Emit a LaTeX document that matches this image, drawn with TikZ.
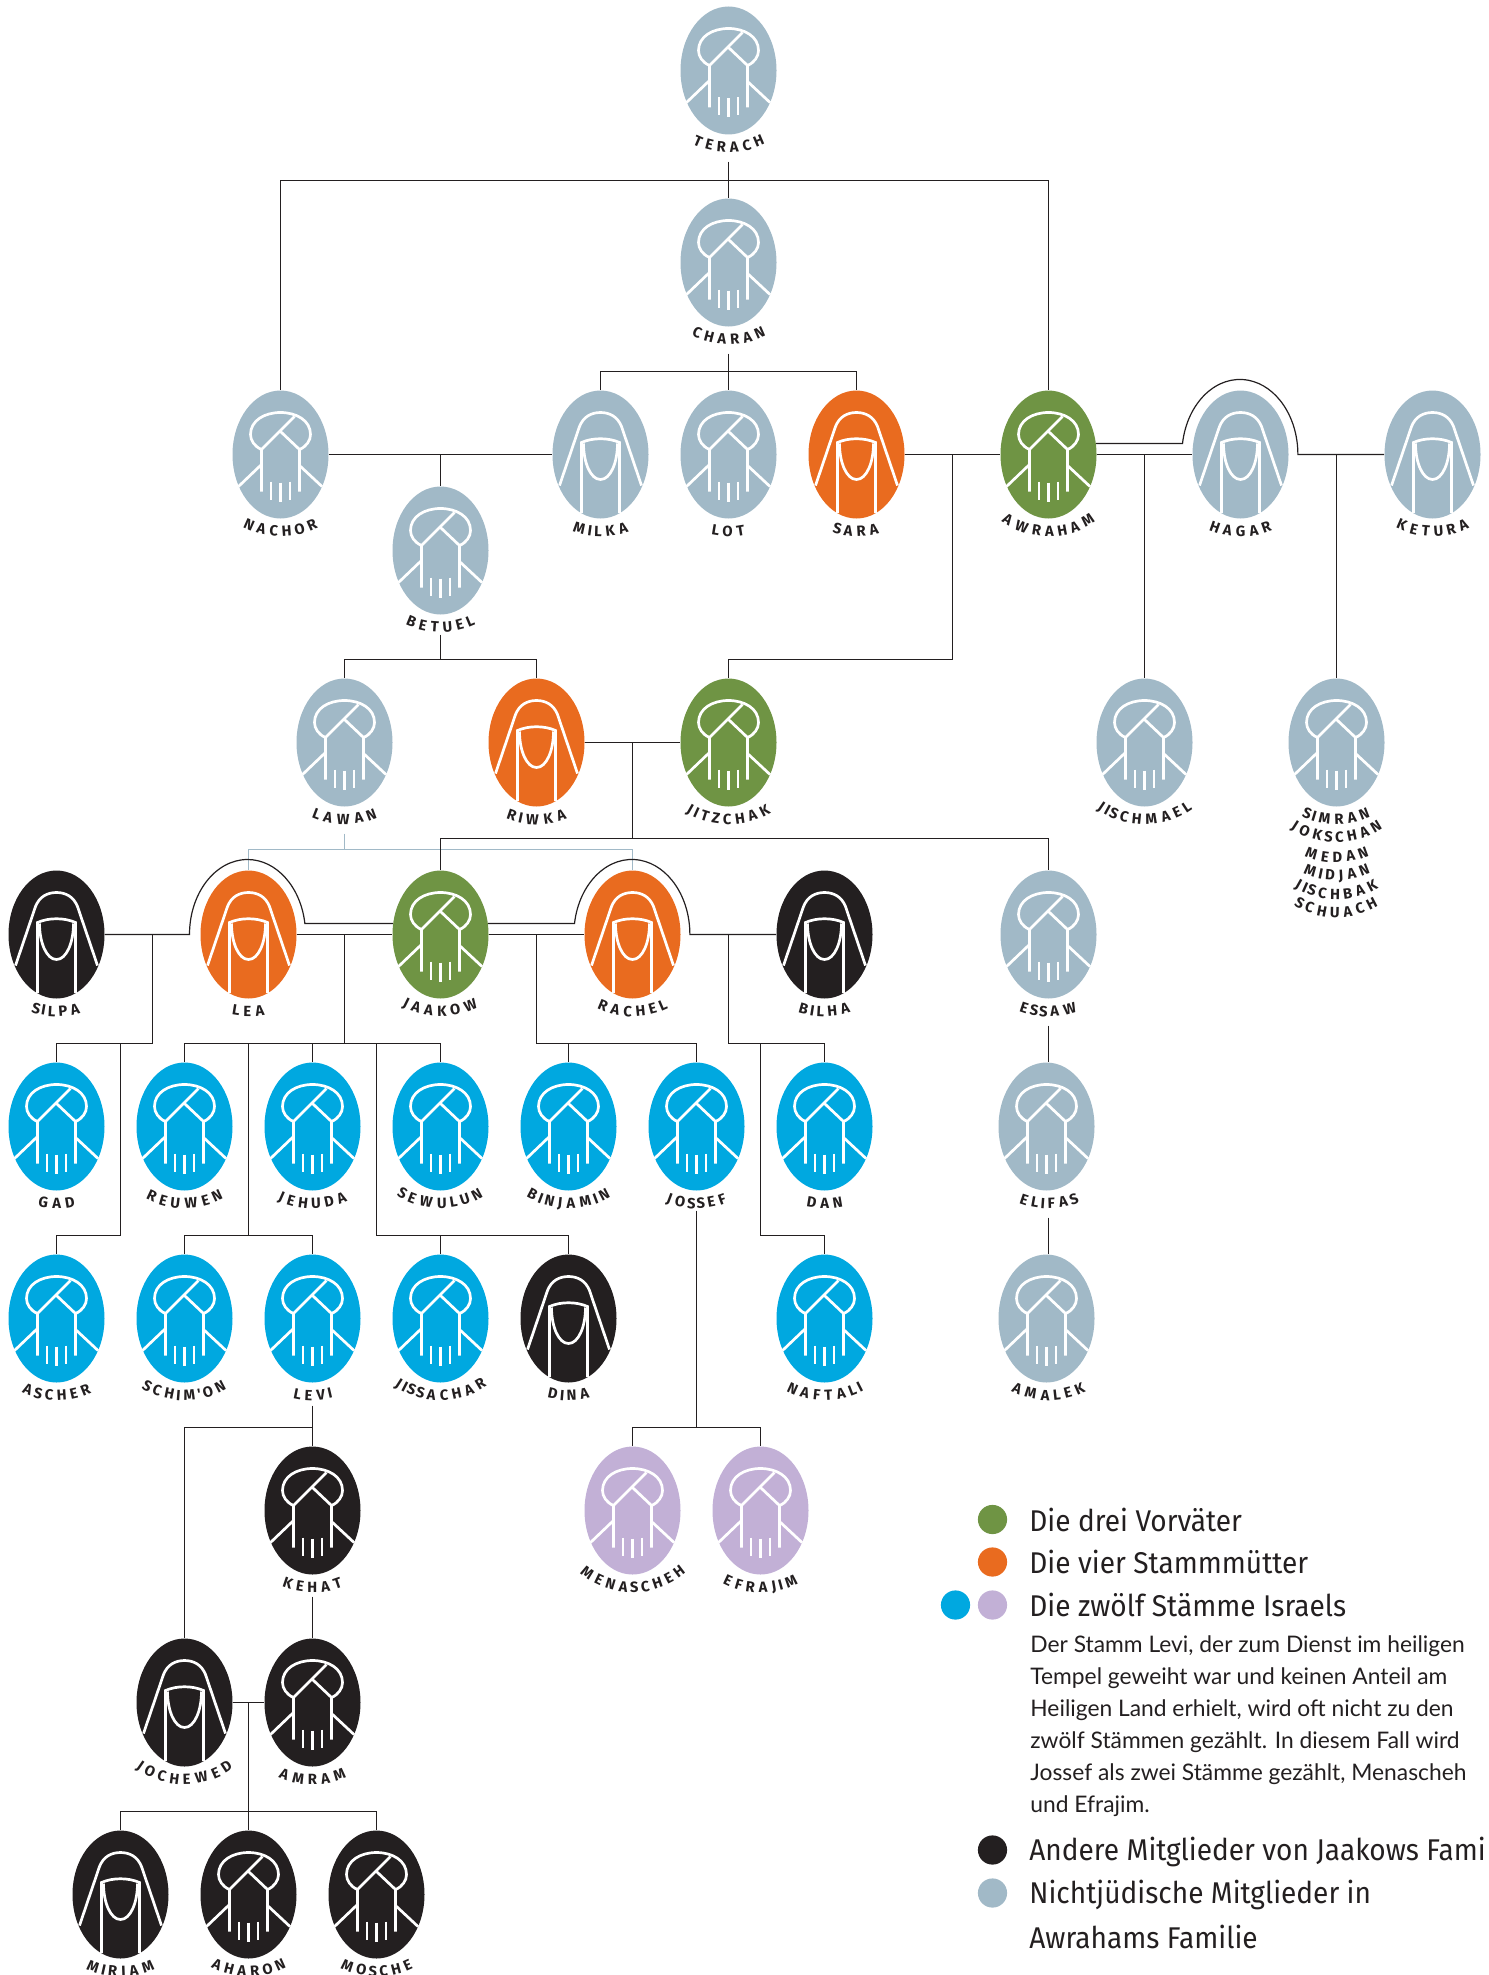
\documentclass[tikz,border=0pt]{standalone}
\usepackage{fontspec}
\usepackage{tikz}
\usetikzlibrary{shapes.geometric,decorations.text}
\newfontfamily\labelfont{Fira Sans}
\newfontfamily\legendfont[FakeStretch=.935]{Fira Sans}
\newfontfamily\bodyfont{Lato}
\definecolor{vorgreen}{HTML}{6F9444}
\definecolor{mutterorange}{HTML}{E96B1F}
\definecolor{stammblue}{HTML}{00A8E0}
\definecolor{stammlilac}{HTML}{C2B0D6}
\definecolor{famblack}{HTML}{231F20}
\definecolor{nichtgrey}{HTML}{A1B9C7}
\tikzset{
	person/.style={ellipse,minimum width=48pt,minimum height=64pt,inner sep=0pt},
	glyph/.style={white,line width=1.35pt},
	famline/.style={famblack,line width=.6pt},
	lawanline/.style={nichtgrey,line width=.6pt},
	dot/.style={circle,minimum size=14.6pt,inner sep=0pt},
	legendhead/.style={anchor=west,inner sep=0pt,text=famblack,font=\legendfont\fontsize{15}{18}\selectfont},
	legendbody/.style={anchor=north west,inner sep=0pt,align=left,text=famblack,font=\bodyfont\fontsize{11.4}{16}\selectfont},
	manface/.pic={
		\draw[glyph] (-19,-5) .. controls (-26,-8) and (-30,-14) .. (-30,-20) .. controls (-30,-34) and (-16,-42) .. (0,-42)
			.. controls (16,-42) and (30,-34) .. (30,-20) .. controls (30,-14) and (26,-8) .. (19,-5);
		\draw[glyph] (14,-38) -- (-19,-5) -- (-19,37);
		\draw[glyph] (0,-23) -- (19,-5) -- (19,37);
		\draw[glyph] (-19,10) -- (-42,32);
		\draw[glyph] (19,11) -- (41.5,32);
		\draw[glyph] (-9.5,27) -- (-9.5,45);
		\draw[glyph] (0,28) -- (0,47);
		\draw[glyph] (9.5,27) -- (9.5,45);
	},
	womanface/.pic={
		\draw[glyph] (-41,31) -- (-21,-28) .. controls (-17,-38) and (-9,-42) .. (0,-42)
			.. controls (9,-42) and (17,-38) .. (21,-28) -- (41,31);
		\draw[glyph] (-19,58.5) -- (-19,-12) .. controls (-8,-17) and (8,-17) .. (19,-12) -- (19,58.5);
		\draw[glyph] (-17,-11) .. controls (-17,8) and (-10,25) .. (0,25) .. controls (10,25) and (17,8) .. (17,-11);
	},
}
\newcommand{\namearcdo}[3]{\path[decorate,decoration={text effects along path,text={#1},text align=center,
	text effects/.cd,text along path,
		character widths={inner xsep=-.3pt},
		characters={font=\labelfont\bfseries\fontsize{7.4}{9}\selectfont,text=famblack}}]
	(#2.center) ++(0,#3) ++(225:41pt) arc[start angle=225,end angle=315,radius=41pt];}
\newcommand{\namearc}[3]{\edef\arctext{#3}\expandafter\namearcdo\expandafter{\arctext}{#1}{#2}}
\begin{document}
\begin{tikzpicture}[x=.5pt,y=-.5pt]
	\useasboundingbox (0,0) rectangle (1488,1975);
	\begin{scope}[yshift=-.25pt]
	% men
	\foreach \nm/\nx/\ny/\col/\lab in {terach/728.5/70/nichtgrey/TERACH, charan/728.5/262/nichtgrey/CHARAN,
		nachor/280.5/454/nichtgrey/NACHOR, lot/728.5/454/nichtgrey/LOT, awraham/1048.5/454/vorgreen/AWRAHAM,
		betuel/440.5/550/nichtgrey/BETUEL, lawan/344.5/742/nichtgrey/LAWAN, jitzchak/728.5/742/vorgreen/JITZCHAK,
		jischmael/1144.5/742/nichtgrey/JISCHMAEL, simran/1336.5/742/nichtgrey/SIMRAN,
		jaakow/440.5/934/vorgreen/JAAKOW, essaw/1048.5/934/nichtgrey/ESSAW,
		gad/56.5/1126/stammblue/GAD, reuwen/184.5/1126/stammblue/REUWEN, jehuda/312.5/1126/stammblue/JEHUDA,
		sewulun/440.5/1126/stammblue/SEWULUN, binjamin/568.5/1126/stammblue/BINJAMIN, jossef/696.5/1126/stammblue/JOSSEF,
		dan/824.5/1126/stammblue/DAN,
		ascher/56.5/1318/stammblue/ASCHER, schimon/184.5/1318/stammblue/SCHIM'ON, levi/312.5/1318/stammblue/LEVI,
		jissachar/440.5/1318/stammblue/JISSACHAR, naftali/824.5/1318/stammblue/NAFTALI,
		kehat/312.5/1510/famblack/KEHAT, menascheh/632.5/1510/stammlilac/MENASCHEH, efrajim/760.5/1510/stammlilac/EFRAJIM,
		amram/312.5/1702/famblack/AMRAM, aharon/248.5/1894/famblack/AHARON, mosche/376.5/1894/famblack/MOSCHE} {
		\node[person,fill=\col] (\nm) at (\nx,\ny) {};
		\pic at (\nx,\ny) {manface};
		\namearc{\nm}{0}{\lab}
	}
	% these two sit a little left of their line
	\foreach \nm/\ny/\lab in {elifas/1126/ELIFAS, amalek/1318/AMALEK} {
		\node[person,fill=nichtgrey] (\nm) at (1046.5,\ny) {};
		\pic at (1046.5,\ny) {manface};
		\coordinate (\nm line) at (1048.5,\ny);
		\namearc{\nm line}{0}{\lab}
	}
	% women
	\foreach \nm/\nx/\ny/\col/\lab in {milka/600.5/454/nichtgrey/MILKA, sara/856.5/454/mutterorange/SARA,
		hagar/1240.5/454/nichtgrey/HAGAR, ketura/1432.5/454/nichtgrey/KETURA, riwka/536.5/742/mutterorange/RIWKA,
		silpa/56.5/934/famblack/SILPA, lea/248.5/934/mutterorange/LEA, rachel/632.5/934/mutterorange/RACHEL,
		bilha/824.5/934/famblack/BILHA, dina/568.5/1318/famblack/DINA, jochewed/184.5/1702/famblack/JOCHEWED,
		mirjam/120.5/1894/famblack/MIRJAM} {
		\node[person,fill=\col] (\nm) at (\nx,\ny) {};
		\pic at (\nx,\ny) {womanface};
		\namearc{\nm}{0}{\lab}
	}
	\namearc{simran}{18}{JOKSCHAN}
	\namearc{simran}{38}{MEDAN}
	\namearc{simran}{56}{MIDJAN}
	\namearc{simran}{75}{JISCHBAK}
	\namearc{simran}{93}{SCHUACH}

	\path	(728.5,161) coordinate(terachdrop)
		(728.5,180) coordinate(terachbus)
		(728.5,353) coordinate(charandrop)
		(728.5,371) coordinate(charanbus)
		(440.5,454) coordinate(betueldrop)
		(440.5,634) coordinate(betuelstem)
		(440.5,659) coordinate(betuelbus)
		(952.5,454) coordinate(sarajoin)
		(952.5,659) coordinate(sarabus)
		(1182.5,443) coordinate(hagararch)
		(1144.5,454) coordinate(jischmaeljoin)
		(1336.5,454) coordinate(simranjoin)
		(632.5,742) coordinate(riwkajoin)
		(632.5,838) coordinate(riwkabus)
		(344.5,833) coordinate(lawandrop)
		(344.5,849) coordinate(lawanbus)
		(189.5,934) coordinate(leaarch)
		(574.5,923) coordinate(rachelarch)
		(152.5,934) coordinate(silpajoin)
		(152.5,1043) coordinate(silpabus)
		(120.5,1043) coordinate(aschertop)
		(120.5,1235) coordinate(ascherbus)
		(344.5,934) coordinate(leajoin)
		(344.5,1043) coordinate(leabus)
		(248.5,1043) coordinate(levitop)
		(248.5,1235) coordinate(levibus)
		(376.5,1043) coordinate(dinatop)
		(376.5,1235) coordinate(dinabus)
		(536.5,934) coordinate(racheljoin)
		(536.5,1043) coordinate(rachelbus)
		(728.5,934) coordinate(bilhajoin)
		(728.5,1043) coordinate(bilhabus)
		(760.5,1043) coordinate(naftalitop)
		(760.5,1235) coordinate(naftalibus)
		(1048.5,1025) coordinate(essawdrop)
		(1048.5,1217) coordinate(elifasdrop)
		(696.5,1210) coordinate(jossefdrop)
		(696.5,1427) coordinate(jossefbus)
		(312.5,1405) coordinate(levidrop)
		(312.5,1427) coordinate(levikids)
		(312.5,1596) coordinate(kehatdrop)
		(248.5,1702) coordinate(amramjoin)
		(248.5,1811) coordinate(amrambus);

	\draw[lawanline] (lawandrop) -- (lawanbus);
	\draw[lawanline] (lea.north) |- (lawanbus) -| (rachel.north);

	\begin{scope}[famline]
		\draw (nachor.north) |- (terachbus) -| (awraham.north);
		\draw (terachdrop) -- (charan.north);
		\draw (charandrop) -- (lot.north);
		\draw (milka.north) |- (charanbus) -| (sara.north);
		\draw (nachor.east) -- (milka.west);
		\draw (betueldrop) -- (betuel.north);
		\draw (betuelstem) -- (betuelbus);
		\draw (lawan.north) |- (betuelbus) -| (riwka.north);
		\draw (sara.east) -- (awraham.west);
		\draw (sarajoin) -- (sarabus) -| (jitzchak.north);
		\draw (awraham.east) -- (hagar.west);
		\draw (awraham.13) -- (hagararch) arc[start angle=171.6,end angle=0,x radius=29pt,y radius=37.5pt] -- (ketura.west);
		\draw (jischmaeljoin) -- (jischmael.north);
		\draw (simranjoin) -- (simran.north);
		\draw (riwka.east) -- (jitzchak.west);
		\draw (riwkajoin) -- (riwkabus);
		\draw (jaakow.north) |- (riwkabus) -| (essaw.north);
		% the two arches
		\draw (silpa.east) -- (leaarch) arc[start angle=180,end angle=8.4,x radius=29pt,y radius=37.5pt] -- (jaakow.167);
		\draw (lea.east) -- (jaakow.west);
		\draw (jaakow.13) -- (rachelarch) arc[start angle=171.6,end angle=0,x radius=29pt,y radius=37.5pt] -- (bilha.west);
		\draw (jaakow.east) -- (rachel.west);
		\draw (silpajoin) -- (silpabus) -| (gad.north);
		\draw (aschertop) -- (ascherbus) -| (ascher.north);
		\draw (leajoin) -- (leabus);
		\draw (reuwen.north) |- (leabus) -| (sewulun.north);
		\draw (jehuda.north) |- (leabus);
		\draw (levitop) -- (levibus);
		\draw (schimon.north) |- (levibus) -| (levi.north);
		\draw (dinatop) -- (dinabus);
		\draw (jissachar.north) |- (dinabus) -| (dina.north);
		\draw (racheljoin) -- (rachelbus) -| (jossef.north);
		\draw (binjamin.north) |- (rachelbus);
		\draw (bilhajoin) -- (bilhabus) -| (dan.north);
		\draw (naftalitop) -- (naftalibus) -| (naftali.north);
		\draw (essawdrop) -- (essawdrop |- elifas.north);
		\draw (elifasdrop) -- (elifasdrop |- amalek.north);
		\draw (jossefdrop) -- (jossefbus);
		\draw (menascheh.north) |- (jossefbus) -| (efrajim.north);
		\draw (levidrop) -- (kehat.north);
		\draw (jochewed.north) |- (levikids);
		\draw (kehatdrop) -- (amram.north);
		\draw (jochewed.east) -- (amram.west);
		\draw (amramjoin) -- (aharon.north);
		\draw (mirjam.north) |- (amrambus) -| (mosche.north);
	\end{scope}
	\end{scope}

	% legend
	\node[dot,fill=vorgreen] (dotgreen) at (992.5,1519.5) {};
	\node[dot,fill=mutterorange] (dotorange) at (992.5,1562) {};
	\node[dot,fill=stammblue] (dotblue) at (955.5,1605) {};
	\node[dot,fill=stammlilac] (dotlilac) at (992.5,1605) {};
	\node[dot,fill=famblack] (dotblack) at (992.5,1850) {};
	\node[dot,fill=nichtgrey] (dotgrey) at (992.5,1893) {};
	\node[legendhead] (headgreen) at (1029,1519.5) {Die drei Vorväter};
	\node[legendhead] (headorange) at (1029,1562) {Die vier Stammmütter};
	\node[legendhead] (headblue) at (1029,1605) {Die zwölf Stämme Israels};
	\node[legendbody] (bodyblue) at (1030,1635) {Der Stamm Levi, der zum Dienst im heiligen\\
		Tempel geweiht war und keinen Anteil am\\
		Heiligen Land erhielt, wird oft nicht zu den\\
		zwölf Stämmen gezählt. In diesem Fall wird\\
		Jossef als zwei Stämme gezählt, Menascheh\\
		und Efrajim.};
	\node[legendhead] (headblack) at (1029,1852) {Andere Mitglieder von Jaakows Fami};
	\node[legendhead] (headgrey) at (1029,1895) {Nichtjüdische Mitglieder in};
	\node[legendhead] (headgreytwo) at (1029,1937) {Awrahams Familie};
\end{tikzpicture}
\end{document}
